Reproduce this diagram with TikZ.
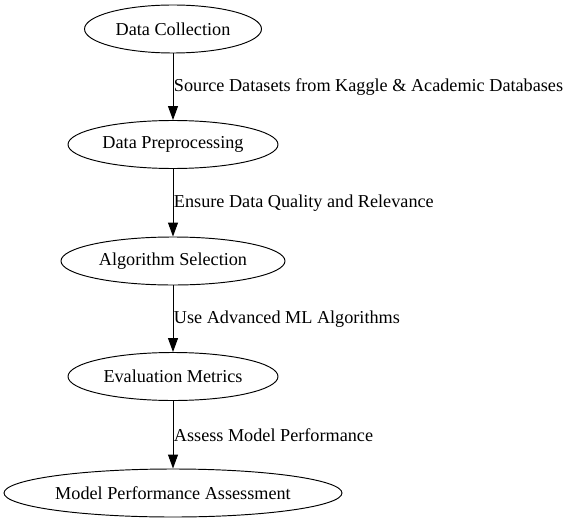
\documentclass[tikz,border=0pt]{standalone}
\usepackage{fontspec}
\setmainfont{Liberation Serif}
\usetikzlibrary{shapes.geometric,arrows.meta}
\begin{document}
\begin{tikzpicture}[x=1pt,y=1pt,
  stage/.style={draw, ellipse, line width=0.95pt, inner sep=0pt, minimum height=48pt, font=\fontsize{18.2}{22}\selectfont},
  flow/.style={draw, line width=0.95pt, -{Triangle[length=14pt,width=10pt]}},
  elabel/.style={anchor=west, inner sep=0.5pt, font=\fontsize{18.2}{22}\selectfont}]
\useasboundingbox (0,0) rectangle (569,523);
\node[stage, minimum width=177pt] (n1) at (173,494) {Data Collection};
\node[stage, minimum width=210pt] (n2) at (173,378.5) {Data Preprocessing};
\node[stage, minimum width=224pt] (n3) at (173,262) {Algorithm Selection};
\node[stage, minimum width=210pt] (n4) at (173,146.5) {Evaluation Metrics};
\node[stage, minimum width=338pt] (n5) at (173,30) {Model Performance Assessment};
\draw[flow] (n1.south) -- node[elabel] {Source Datasets from Kaggle \& Academic Databases} (n2.north);
\draw[flow] (n2.south) -- node[elabel] {Ensure Data Quality and Relevance} (n3.north);
\draw[flow] (n3.south) -- node[elabel] {Use Advanced ML Algorithms} (n4.north);
\draw[flow] (n4.south) -- node[elabel] {Assess Model Performance} (n5.north);
\end{tikzpicture}
\end{document}
